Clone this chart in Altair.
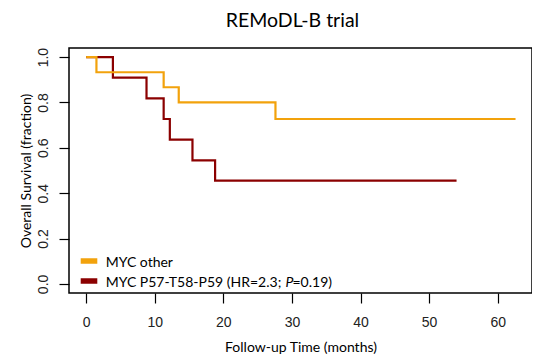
import altair as alt
import pandas as pd

# Kaplan-Meier step data
other_time = [0, 1.5, 11.3, 13.5, 27.6, 62.6]
other_surv = [1.0, 0.933, 0.867, 0.800, 0.727, 0.727]
myc_time = [0, 3.9, 8.8, 11.3, 12.2, 15.5, 18.8, 54.0]
myc_surv = [1.0, 0.909, 0.818, 0.727, 0.636, 0.545, 0.455, 0.455]

x_ticks = [0, 10, 20, 30, 40, 50, 60]
y_ticks = [0.0, 0.2, 0.4, 0.6, 0.8, 1.0]
legend_labels = ["MYC other", "MYC P57-T58-P59 (HR=2.3; ", "P", "=0.19)"]
colors = ["#F2A20C", "#8B0000"]

df_other = pd.DataFrame({"time": other_time, "surv": other_surv})
df_myc = pd.DataFrame({"time": myc_time, "surv": myc_surv})
one = pd.DataFrame({"k": [0]})

x_enc = alt.X(
    "time:Q",
    scale=alt.Scale(domain=[-2.5, 65], nice=False, zero=False),
    axis=alt.Axis(values=x_ticks, format="d", title="Follow-up Time (months)",
                  labelPadding=12, titleY=58, titleBaseline="alphabetic"),
)
y_enc = alt.Y(
    "surv:Q",
    scale=alt.Scale(domain=[-0.04, 1.04], nice=False, zero=False),
    axis=alt.Axis(values=y_ticks, format=".1f", labelAngle=270, labelPadding=9,
                  title="Overall Survival (fraction)", titleAngle=270,
                  titleX=-39, titleY=122.5, titleBaseline="alphabetic"),
)

line_myc = alt.Chart(df_myc).mark_line(interpolate="step-after", color=colors[1], strokeWidth=2.2).encode(x=x_enc, y=y_enc)
line_other = alt.Chart(df_other).mark_line(interpolate="step-after", color=colors[0], strokeWidth=2.2).encode(x=x_enc, y=y_enc)

sym_other = alt.Chart(one).mark_rule(color=colors[0], strokeWidth=5.5, strokeCap="butt").encode(
    x=alt.value(11.7), x2=alt.value(28.3), y=alt.value(213))
sym_myc = alt.Chart(one).mark_rule(color=colors[1], strokeWidth=5.5, strokeCap="butt").encode(
    x=alt.value(11.7), x2=alt.value(28.3), y=alt.value(233))

tprops = dict(align="left", baseline="alphabetic", font="Lato", fontSize=14, color="black")
txt1 = alt.Chart(one).mark_text(**tprops).encode(x=alt.value(36.7), y=alt.value(219.3), text=alt.value(legend_labels[0]))
txt2 = alt.Chart(one).mark_text(**tprops).encode(x=alt.value(36.7), y=alt.value(238.5), text=alt.value(legend_labels[1]))
txt3 = alt.Chart(one).mark_text(fontStyle="italic", **tprops).encode(x=alt.value(216.5), y=alt.value(238.5), text=alt.value(legend_labels[2]))
txt4 = alt.Chart(one).mark_text(**tprops).encode(x=alt.value(223.5), y=alt.value(238.5), text=alt.value(legend_labels[3]))

chart = alt.layer(line_myc, line_other, sym_other, sym_myc, txt1, txt2, txt3, txt4).properties(
    width=463, height=245,
    title=alt.TitleParams("REMoDL-B trial", font="Lato", fontSize=19.5, fontWeight="normal",
                          anchor="middle", dx=-8, offset=1, baseline="alphabetic", color="black"),
    autosize=alt.AutoSizeParams(type="none"),
    padding={"left": 61, "top": 40, "right": 0, "bottom": 66},
).configure_view(stroke="black", strokeWidth=1.5).configure_axis(
    grid=False, domain=False, tickColor="black", tickSize=10, tickWidth=1.2,
    labelFont="Liberation Sans", labelFontSize=14, labelColor="#222222",
    titleFont="Lato", titleFontSize=14, titleFontWeight="normal", titleColor="black",
)

chart.save("out.html", embed_options={"renderer": "svg", "actions": False})
